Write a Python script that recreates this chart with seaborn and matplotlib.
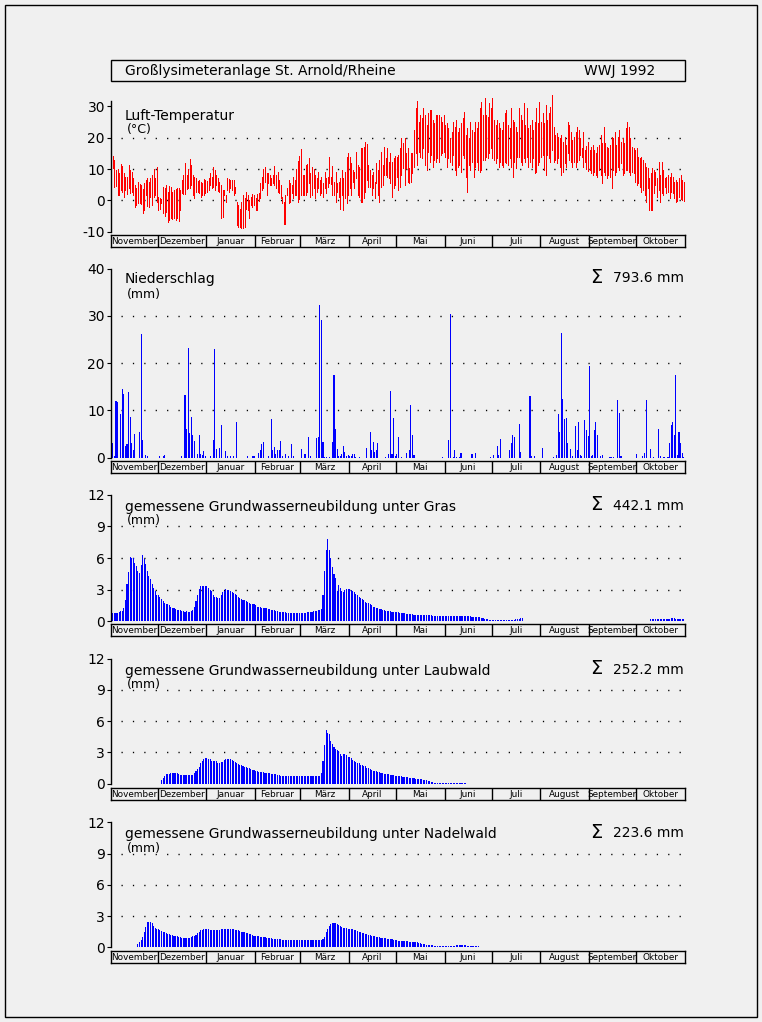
import numpy as np
import pandas as pd
import matplotlib
matplotlib.use("Agg")
import matplotlib.pyplot as plt
import seaborn as sns
from matplotlib.patches import Rectangle

sns.set_theme(style="white")
plt.rcParams['font.family'] = ['DejaVu Sans']
plt.rcParams['text.color'] = 'black'
plt.rcParams['axes.labelcolor'] = 'black'
plt.rcParams['xtick.color'] = 'black'
plt.rcParams['ytick.color'] = 'black'

BG = '#f0f0f0'

# ---------------- data (water year Nov 1991 - Oct 1992) ----------------
months = ["November", "Dezember", "Januar", "Februar", "März", "April",
          "Mai", "Juni", "Juli", "August", "September", "Oktober"]
month_days = [30, 31, 31, 29, 31, 30, 31, 30, 31, 31, 30, 31]

title_left = "Großlysimeteranlage St. Arnold/Rheine"
title_right = "WWJ 1992"

# daily maximum air temperature (°C)
tmax = [
    11.8, 14.1, 12.9, 9.7, 10.0, 8.6, 11.6, 11.1, 8.8, 7.6, 7.3, 11.3, 9.7, 8.9, 7.0, 4.9, 3.8, 5.7, 5.1, 4.9, 3.5, 5.4, 6.5, 7.0, 5.7, 7.2, 8.1, 10.0, 7.2, 10.7,
    1.1, 0.9, 0.4, 4.4, 4.0, 4.9, 2.8, 4.7, 4.4, 2.8, 3.3, 3.6, 3.8, 3.8, 3.3, 6.5, 8.1, 11.8, 8.1, 10.0, 13.2, 11.3, 8.1, 7.6, 7.0, 6.2, 6.5, 5.7, 5.4, 6.8, 6.5,
    6.2, 7.2, 8.6, 7.6, 10.7, 9.7, 8.1, 7.2, 5.7, 4.9, 3.3, 3.3, 1.7, 7.0, 6.8, 6.5, 6.5, 6.5, 4.4, -0.4, -1.5, -2.6, -0.4, 1.7, 0.6, 2.8, 1.7, 0.1, 1.2, 1.9, 1.7,
    0.6, 1.9, 2.2, 5.4, 7.6, 10.0, 10.7, 8.6, 8.6, 8.1, 7.2, 8.1, 11.1, 8.1, 9.1, 6.5, 4.9, 1.2, -0.4, 1.7, 3.8, 6.5, 5.4, 4.9, 7.6, 6.5, 10.0, 12.6, 14.1,
    16.3, 8.1, 8.1, 11.3, 11.5, 13.6, 8.6, 10.6, 10.0, 8.1, 7.0, 8.9, 6.5, 7.5, 5.4, 8.9, 7.2, 7.6, 13.9, 7.6, 11.1, 6.0, 8.9, 5.4, 5.7, 7.2, 9.7, 7.2, 8.9, 13.9, 15.0,
    13.9, 11.8, 9.7, 9.1, 15.5, 11.3, 10.7, 16.8, 16.6, 17.1, 18.7, 17.9, 11.3, 9.7, 8.1, 9.1, 5.7, 11.8, 9.7, 12.9, 15.5, 11.3, 17.1, 13.4, 16.6, 12.3, 15.0, 12.3, 13.4, 14.0,
    13.9, 14.4, 16.6, 19.8, 18.2, 19.8, 15.0, 16.6, 10.2, 15.0, 15.0, 22.4, 29.4, 31.7, 25.1, 27.2, 26.2, 29.4, 27.2, 24.0, 27.8, 28.8, 28.8, 25.7, 24.6, 27.2, 27.2, 27.2, 26.7, 25.1, 27.2,
    24.0, 24.6, 23.0, 19.8, 21.9, 25.1, 23.5, 25.7, 21.9, 23.0, 24.6, 26.2, 28.3, 20.9, 23.0, 19.8, 25.1, 22.4, 21.9, 25.1, 23.0, 25.1, 29.4, 31.5, 27.2, 32.6, 27.2, 26.7, 31.0, 29.4,
    32.6, 25.7, 24.0, 25.7, 24.6, 23.0, 22.4, 25.1, 27.8, 28.8, 24.0, 23.0, 29.4, 25.7, 25.1, 23.5, 21.9, 29.4, 27.2, 25.7, 31.0, 24.0, 29.4, 23.0, 24.0, 25.7, 22.4, 25.1, 29.4, 24.6, 31.5,
    25.1, 27.8, 24.6, 30.4, 25.7, 27.8, 29.9, 33.6, 23.5, 20.9, 21.4, 20.3, 19.8, 20.9, 18.7, 20.3, 17.7, 25.1, 24.0, 21.9, 19.3, 20.3, 21.9, 23.5, 22.4, 19.8, 16.6, 21.9, 16.1, 17.5, 18.5,
    16.1, 17.1, 17.7, 16.1, 15.0, 17.1, 17.7, 20.9, 18.2, 23.5, 18.2, 17.1, 16.6, 17.7, 20.3, 19.8, 21.9, 17.7, 20.3, 22.4, 18.7, 19.8, 18.2, 23.0, 25.1, 23.5, 19.8, 17.1, 16.6, 16.1,
    16.6, 13.9, 13.4, 13.9, 12.9, 11.8, 10.7, 10.2, 7.0, 8.6, 10.2, 9.7, 9.1, 7.0, 12.3, 8.1, 12.3, 9.7, 7.0, 7.6, 8.1, 7.6, 8.6, 7.6, 6.0, 6.5, 6.0, 7.0, 8.0, 6.5, 6.0,
]
# daily minimum air temperature (°C)
tmin = [
    1.2, 10.2, 4.4, 4.6, 1.7, 1.7, 3.3, 2.8, 1.2, 3.3, 2.0, 3.8, 2.2, 2.8, 1.7, -2.0, -1.5, -1.0, -1.0, -1.1, -4.1, -3.1, 1.7, -1.7, -2.0, 1.2, -1.5, 1.2, 1.7, -0.4,
    -3.1, -2.6, -0.9, -4.1, -4.9, -3.6, -6.8, -6.3, -5.7, -6.0, -5.5, -6.3, -5.5, -6.6, -3.1, 2.2, 1.9, 1.9, 3.5, 3.8, 3.8, 4.9, 1.7, 0.6, 2.8, 2.8, 2.2, 1.2, 1.7, 1.7, 2.2,
    2.8, 3.3, 4.9, 3.8, 4.4, 3.3, 4.9, 3.0, 2.8, -5.7, -5.2, 1.7, -0.4, 3.3, 2.8, 3.8, 3.3, 1.7, 2.2, -7.9, -8.4, -8.4, -8.9, -8.9, -8.4, -2.6, -3.1, -5.5, -1.5, -2.0, -1.5,
    -3.1, -3.1, -0.2, 0.6, 3.3, 3.8, 6.0, 1.7, 5.4, 4.9, 4.9, 5.4, 4.9, 3.8, 2.8, 2.2, 0.6, -1.0, -7.7, -7.7, 1.7, -1.0, -0.4, 2.2, 0.6, 1.7, 1.7, -0.6, 0.4,
    1.7, 1.7, 1.7, 1.7, 2.8, 5.4, 1.2, 1.7, 3.8, 0.6, 2.8, 3.8, 1.7, 2.5, 1.2, 3.8, 2.2, 4.4, 5.4, 5.1, 1.7, 1.7, -0.6, 2.8, 1.2, -2.6, 1.7, -3.1, 0.6, -1.0, 1.7,
    3.8, 1.7, 6.0, 3.8, 7.0, 1.7, 1.2, -0.4, -0.4, 0.6, 2.8, 6.5, 4.4, 4.4, 1.7, 3.8, 0.6, 5.4, 1.7, -0.6, 4.4, 4.9, 8.1, 8.1, 7.6, 7.0, 5.4, 1.2, 3.8, 5.0,
    7.6, 3.3, 4.4, 8.1, 10.2, 4.9, 10.2, 6.0, 5.4, 6.0, 8.6, 10.7, 15.0, 11.3, 15.5, 13.9, 13.4, 16.6, 11.3, 9.7, 15.5, 12.3, 14.4, 10.7, 12.9, 12.3, 13.4, 12.3, 14.4, 15.0, 15.5,
    13.9, 10.7, 13.4, 12.3, 11.3, 14.4, 9.7, 8.1, 10.7, 11.3, 9.1, 14.4, 13.4, 7.6, 2.8, 11.3, 9.7, 12.3, 7.6, 10.7, 12.3, 9.7, 9.1, 9.7, 12.9, 13.0, 13.9, 13.4, 15.0, 16.6,
    13.4, 12.9, 11.8, 13.4, 10.7, 12.3, 11.3, 10.7, 12.3, 11.8, 11.3, 13.4, 10.7, 7.6, 12.3, 10.2, 13.9, 13.9, 12.3, 11.3, 13.4, 12.3, 13.9, 10.7, 12.3, 10.7, 13.4, 8.6, 9.1, 11.3, 12.3,
    13.9, 14.4, 9.7, 8.1, 14.4, 13.4, 12.3, 16.1, 12.3, 12.9, 11.8, 13.4, 10.7, 8.1, 9.1, 11.8, 10.7, 15.0, 12.9, 12.3, 10.7, 12.3, 10.7, 12.3, 12.9, 14.4, 13.9, 10.7, 12.3, 10.0, 9.5,
    9.7, 8.6, 8.1, 9.1, 8.1, 7.6, 9.7, 8.1, 5.4, 9.1, 8.1, 7.0, 8.1, 7.6, 3.8, 9.7, 8.1, 9.1, 10.7, 9.7, 11.8, 8.1, 8.6, 9.7, 9.7, 9.1, 8.1, 9.1, 8.6, 6.0,
    4.9, 5.4, 4.4, 2.8, 3.3, 1.7, -0.4, 3.8, -3.1, -3.1, -3.1, 2.2, 4.9, 1.2, 3.3, -0.4, 2.2, 1.7, 4.4, 2.2, 2.8, 0.6, 2.8, 2.2, 0.6, -0.4, -0.2, 1.0, 0.5, 0.0, -0.2,
]

# precipitation: day of water year (0 = 1 Nov 1991) and amount (mm)
precip_day = [1, 2, 3, 4, 6, 7, 8, 9, 10, 11, 12, 13, 14, 15, 18, 19, 20, 22, 23,
              31, 33, 34, 45, 47, 48, 49, 50, 51, 52, 53, 55, 56, 57, 58, 59, 60,
              63, 65, 66, 67, 69, 70, 73, 74, 76, 78, 80, 87, 90, 91,
              94, 95, 96, 97, 100, 102, 103, 104, 105, 106, 107, 108, 109, 111, 113, 115, 116,
              121, 123, 124, 126, 127, 131, 132, 133, 134, 135, 136, 137, 139, 141, 142, 143, 144,
              145, 146, 147, 148, 149, 150, 151, 152, 153, 154, 155, 156, 158,
              163, 165, 166, 167, 168, 169, 170, 175, 177, 178, 179, 180, 181,
              182, 183, 185, 188, 190, 191, 192, 193, 211, 215, 216, 218, 219, 220, 222, 223,
              230, 232, 242, 244, 246, 247, 248, 254, 255, 256, 257, 260, 261, 267, 268, 270,
              275, 282, 284, 285, 286, 287, 288, 289, 290, 291, 293, 294, 296, 297, 298, 299,
              300, 302, 303, 304, 305, 306, 307, 308, 309, 310, 312, 313, 318, 319, 320, 323,
              324, 325, 335, 339, 340, 341, 344, 346, 349, 350, 352, 353, 355, 356, 357, 358,
              359, 360, 361, 362, 363, 364, 365]
precip_mm = [3.1, 0.3, 12.0, 11.8, 9.3, 14.5, 13.5, 2.5, 3.0, 14.0, 8.6, 3.1, 1.7, 5.0, 5.4, 26.2, 3.7, 0.6, 0.3,
             0.4, 0.4, 0.6, 0.4, 13.2, 6.1, 23.2, 5.2, 8.6, 4.9, 3.5, 0.7, 4.8, 0.7, 0.6, 1.4, 0.3,
             0.3, 3.7, 23.0, 1.9, 2.0, 6.9, 1.4, 0.4, 0.3, 0.3, 7.5, 0.4, 0.3, 0.3,
             1.0, 1.7, 3.0, 3.4, 0.4, 8.2, 1.6, 2.3, 0.8, 1.6, 1.7, 3.5, 0.3, 0.8, 0.3, 3.0, 0.4,
             1.8, 0.8, 0.8, 4.4, 0.4, 4.2, 4.4, 32.3, 29.1, 3.3, 0.1, 0.1, 0.1, 3.3, 17.5, 6.1, 1.8,
             0.4, 0.4, 0.8, 2.5, 1.2, 0.4, 0.6, 0.4, 0.4, 0.8, 0.8, 0.1, 0.1,
             2.0, 5.4, 1.6, 3.3, 1.2, 1.6, 3.1, 0.1, 0.8, 14.1, 0.8, 8.4, 0.4,
             0.8, 4.4, 0.1, 1.0, 1.6, 11.1, 4.8, 0.6, 0.2, 3.7, 30.4, 0.2, 1.6, 0.2, 0.2, 1.0,
             0.8, 1.0, 0.2, 0.6, 2.5, 0.6, 4.0, 1.6, 3.1, 4.8, 4.4, 7.1, 1.2, 13.0, 0.4, 0.4,
             2.0, 0.2, 0.6, 9.2, 5.4, 26.3, 12.4, 8.2, 8.4, 3.1, 1.8, 0.4, 6.7, 1.6, 7.5, 0.6,
             0.4, 8.0, 5.9, 4.6, 19.4, 0.4, 0.6, 5.9, 7.5, 4.8, 0.4, 0.6, 0.2, 0.2, 0.2, 12.2,
             9.4, 0.4, 0.8, 0.4, 1.1, 12.2, 1.8, 0.2, 6.1, 0.4, 0.2, 0.2, 0.2, 3.1, 6.9, 7.5,
             4.8, 17.5, 0.6, 5.4, 3.1, 1.0, 0.2]
precip_sum = "793.6"

# measured groundwater recharge (mm/day)
gw_gras = [
    0.75, 0.75, 0.75, 0.78, 0.8, 0.9, 0.95, 1.0, 1.25, 2.0, 3.5, 4.7, 6.1, 6.0, 6.0, 5.5, 5.2, 4.8, 4.6, 5.3, 6.3, 5.9, 5.4, 4.8, 4.3, 4.0, 3.5, 3.2, 2.9, 2.5,
    2.45, 2.3, 2.1, 1.9, 1.75, 1.65, 1.6, 1.5, 1.4, 1.3, 1.25, 1.2, 1.1, 1.05, 1.05, 0.95, 0.95, 0.9, 0.95, 0.9, 0.85, 0.95, 1.05, 1.4, 1.9, 2.5, 3.1, 3.35, 3.35, 3.35, 3.35,
    3.35, 3.15, 3.0, 2.85, 2.5, 2.35, 2.3, 2.25, 2.2, 2.5, 2.75, 2.9, 3.05, 3.0, 3.0, 2.9, 2.8, 2.7, 2.6, 2.45, 2.35, 2.2, 2.1, 2.0, 2.0, 1.9, 1.8, 1.75, 1.65, 1.6, 1.6,
    1.5, 1.4, 1.4, 1.35, 1.3, 1.3, 1.3, 1.25, 1.2, 1.2, 1.1, 1.1, 1.05, 1.0, 0.95, 0.9, 0.9, 0.9, 0.88, 0.85, 0.8, 0.8, 0.8, 0.8, 0.8, 0.8, 0.8, 0.8, 0.8,
    0.8, 0.8, 0.8, 0.8, 0.85, 0.9, 0.9, 0.92, 0.95, 1.0, 1.0, 1.05, 1.1, 1.2, 2.5, 4.8, 6.75, 7.8, 6.75, 6.0, 5.15, 4.5, 4.1, 2.9, 3.4, 3.15, 2.9, 2.8, 3.0, 3.1, 3.1,
    3.05, 3.0, 2.85, 2.75, 2.6, 2.45, 2.3, 2.2, 2.1, 2.0, 1.85, 1.75, 1.7, 1.6, 1.5, 1.4, 1.35, 1.3, 1.25, 1.2, 1.15, 1.1, 1.05, 1.0, 1.0, 0.95, 0.95, 0.9, 0.9, 0.88,
    0.85, 0.85, 0.82, 0.8, 0.78, 0.75, 0.72, 0.7, 0.68, 0.66, 0.65, 0.63, 0.62, 0.62, 0.6, 0.6, 0.58, 0.58, 0.57, 0.56, 0.55, 0.55, 0.55, 0.54, 0.53, 0.52, 0.52, 0.5, 0.5, 0.5, 0.5,
    0.5, 0.5, 0.5, 0.5, 0.5, 0.5, 0.5, 0.5, 0.5, 0.5, 0.5, 0.5, 0.5, 0.5, 0.48, 0.48, 0.48, 0.45, 0.45, 0.42, 0.4, 0.4, 0.38, 0.35, 0.3, 0.25, 0.2, 0.18, 0.15, 0.15,
    0.15, 0.15, 0.15, 0.15, 0.15, 0.15, 0.15, 0.15, 0.15, 0.15, 0.15, 0.15, 0.15, 0.15, 0.15, 0.18, 0.2, 0.25, 0.3, 0.3, 0, 0, 0, 0, 0, 0, 0, 0, 0, 0, 0,
    0, 0, 0, 0, 0, 0, 0, 0, 0, 0, 0, 0, 0, 0, 0, 0, 0, 0, 0, 0, 0, 0, 0, 0, 0, 0, 0, 0, 0, 0, 0,
    0, 0, 0, 0, 0, 0, 0, 0, 0, 0, 0, 0, 0, 0, 0, 0, 0, 0, 0, 0, 0, 0, 0, 0, 0, 0, 0, 0, 0, 0,
    0, 0, 0, 0, 0, 0, 0, 0, 0, 0.2, 0.2, 0.2, 0.2, 0.2, 0.2, 0.2, 0.22, 0.22, 0.22, 0.22, 0.22, 0.25, 0.3, 0.3, 0.3, 0.25, 0.25, 0.25, 0.25, 0.25, 0.25,
]
gras_sum = "442.1"

gw_laub = [
    0, 0, 0, 0, 0, 0, 0, 0, 0, 0, 0, 0, 0, 0, 0, 0, 0, 0, 0, 0, 0, 0, 0, 0, 0, 0, 0, 0, 0, 0,
    0, 0, 0.35, 0.55, 0.75, 0.93, 0.93, 0.93, 1.0, 1.0, 1.03, 1.03, 1.0, 0.93, 0.87, 0.83, 0.83, 0.8, 0.8, 0.8, 0.85, 0.8, 0.83, 1.0, 1.2, 1.4, 1.6, 1.95, 2.2, 2.35, 2.45,
    2.5, 2.4, 2.35, 2.2, 2.2, 2.2, 2.2, 1.95, 1.95, 2.1, 2.1, 2.3, 2.4, 2.4, 2.4, 2.35, 2.3, 2.2, 2.1, 2.0, 1.9, 1.8, 1.75, 1.65, 1.6, 1.58, 1.55, 1.5, 1.45, 1.35, 1.3,
    1.25, 1.2, 1.15, 1.1, 1.1, 1.1, 1.05, 1.05, 1.0, 1.0, 0.97, 0.97, 0.93, 0.9, 0.85, 0.8, 0.77, 0.77, 0.77, 0.77, 0.77, 0.77, 0.77, 0.77, 0.77, 0.77, 0.77, 0.75, 0.72,
    0.7, 0.7, 0.75, 0.75, 0.75, 0.75, 0.75, 0.75, 0.75, 0.75, 0.75, 0.75, 0.78, 1.0, 2.2, 3.7, 5.15, 4.85, 4.8, 4.1, 3.8, 3.55, 3.3, 3.25, 3.1, 2.85, 2.65, 2.8, 2.85, 2.75, 2.6,
    2.55, 2.45, 2.3, 2.2, 2.1, 2.0, 1.95, 1.8, 1.75, 1.7, 1.65, 1.55, 1.5, 1.4, 1.3, 1.25, 1.2, 1.2, 1.15, 1.1, 1.05, 1.0, 0.97, 0.93, 0.9, 0.9, 0.85, 0.8, 0.8, 0.77,
    0.77, 0.75, 0.7, 0.7, 0.65, 0.65, 0.65, 0.6, 0.58, 0.55, 0.55, 0.5, 0.48, 0.48, 0.45, 0.45, 0.42, 0.38, 0.35, 0.32, 0.3, 0.26, 0.2, 0.16, 0.1, 0.1, 0.1, 0.1, 0.1, 0.1, 0.1,
    0.1, 0.1, 0.1, 0.1, 0.1, 0.1, 0.1, 0.1, 0.1, 0.1, 0.1, 0.1, 0.1, 0.1, 0, 0, 0, 0, 0, 0, 0, 0, 0, 0, 0, 0, 0, 0, 0, 0,
    0, 0, 0, 0, 0, 0, 0, 0, 0, 0, 0, 0, 0, 0, 0, 0, 0, 0, 0, 0, 0, 0, 0, 0, 0, 0, 0, 0, 0, 0, 0,
    0, 0, 0, 0, 0, 0, 0, 0, 0, 0, 0, 0, 0, 0, 0, 0, 0, 0, 0, 0, 0, 0, 0, 0, 0, 0, 0, 0, 0, 0, 0,
    0, 0, 0, 0, 0, 0, 0, 0, 0, 0, 0, 0, 0, 0, 0, 0, 0, 0, 0, 0, 0, 0, 0, 0, 0, 0, 0, 0, 0, 0,
    0, 0, 0, 0, 0, 0, 0, 0, 0, 0, 0, 0, 0, 0, 0, 0, 0, 0, 0, 0, 0, 0, 0, 0, 0, 0, 0, 0, 0, 0, 0,
]
laub_sum = "252.2"

gw_nadel = [
    0, 0, 0, 0, 0, 0, 0, 0, 0, 0, 0, 0, 0, 0, 0, 0, 0, 0.3, 0.5, 0.7, 1.0, 1.5, 1.95, 2.4, 2.45, 2.45, 2.3, 2.05, 1.9, 1.8,
    1.75, 1.65, 1.55, 1.5, 1.45, 1.4, 1.3, 1.25, 1.2, 1.15, 1.1, 1.08, 1.05, 1.0, 0.97, 0.93, 0.93, 0.9, 0.88, 0.9, 0.93, 1.0, 1.05, 1.1, 1.15, 1.35, 1.5, 1.65, 1.7, 1.8, 1.8,
    1.8, 1.75, 1.7, 1.68, 1.66, 1.65, 1.65, 1.65, 1.68, 1.75, 1.75, 1.8, 1.8, 1.8, 1.8, 1.8, 1.8, 1.75, 1.7, 1.68, 1.65, 1.6, 1.5, 1.5, 1.45, 1.42, 1.35, 1.3, 1.25, 1.2, 1.1,
    1.1, 1.05, 1.05, 1.0, 1.0, 0.97, 0.95, 0.93, 0.9, 0.88, 0.85, 0.8, 0.8, 0.8, 0.78, 0.75, 0.75, 0.72, 0.72, 0.7, 0.7, 0.7, 0.7, 0.7, 0.68, 0.68, 0.67, 0.67, 0.67,
    0.67, 0.67, 0.67, 0.67, 0.67, 0.67, 0.67, 0.67, 0.67, 0.67, 0.67, 0.67, 0.67, 0.67, 0.8, 1.0, 1.45, 1.8, 2.05, 2.25, 2.3, 2.3, 2.3, 2.2, 2.15, 2.05, 1.95, 1.9, 1.9, 1.85, 1.8,
    1.8, 1.8, 1.75, 1.7, 1.65, 1.55, 1.5, 1.45, 1.4, 1.35, 1.3, 1.25, 1.2, 1.15, 1.1, 1.08, 1.05, 1.02, 1.0, 0.97, 0.93, 0.9, 0.87, 0.85, 0.8, 0.78, 0.77, 0.75, 0.7, 0.7,
    0.68, 0.65, 0.62, 0.6, 0.6, 0.6, 0.58, 0.57, 0.55, 0.55, 0.55, 0.52, 0.5, 0.47, 0.42, 0.4, 0.35, 0.32, 0.3, 0.26, 0.23, 0.22, 0.2, 0.18, 0.16, 0.14, 0.13, 0.13, 0.13, 0.13, 0.13,
    0.13, 0.13, 0.13, 0.13, 0.13, 0.13, 0.13, 0.22, 0.22, 0.22, 0.22, 0.22, 0.22, 0.22, 0.13, 0.13, 0.13, 0.13, 0.13, 0.13, 0.13, 0.13, 0, 0, 0, 0, 0, 0, 0, 0,
    0, 0, 0, 0, 0, 0, 0, 0, 0, 0, 0, 0, 0, 0, 0, 0, 0, 0, 0, 0, 0, 0, 0, 0, 0, 0, 0, 0, 0, 0, 0,
    0, 0, 0, 0, 0, 0, 0, 0, 0, 0, 0, 0, 0, 0, 0, 0, 0, 0, 0, 0, 0, 0, 0, 0, 0, 0, 0, 0, 0, 0, 0,
    0, 0, 0, 0, 0, 0, 0, 0, 0, 0, 0, 0, 0, 0, 0, 0, 0, 0, 0, 0, 0, 0, 0, 0, 0, 0, 0, 0, 0, 0,
    0, 0, 0, 0, 0, 0, 0, 0, 0, 0, 0, 0, 0, 0, 0, 0, 0, 0, 0, 0, 0, 0, 0, 0, 0, 0, 0, 0, 0, 0, 0,
]
nadel_sum = "223.6"

# ---------------- build frames ----------------
N = sum(month_days)


def fit(values):
    v = list(values)[:N]
    return np.array(v + [0.0] * (N - len(v)), dtype=float)


day = np.arange(N) + 0.5
tmax_a, tmin_a = fit(tmax), fit(tmin)
n_t = min(len(tmax), len(tmin), N)
df_temp = pd.DataFrame({
    "day": np.concatenate([day[:n_t], day[:n_t]]),
    "temp": np.concatenate([tmin_a[:n_t], tmax_a[:n_t]]),
})
precip = np.zeros(N)
for d, v in zip(precip_day, precip_mm):
    precip[d] = v

# ---------------- figure ----------------
W, H = 762, 1022
fig = plt.figure(figsize=(W / 100, H / 100), dpi=100, facecolor=BG)
X0, X1 = 110.5, 684.5


def axes_px(x0, top, x1, bottom):
    ax = fig.add_axes([x0 / W, 1 - bottom / H, (x1 - x0) / W, (bottom - top) / H])
    ax.set_facecolor('none')
    return ax


def fig_text(x, y, s, **kw):
    kw.setdefault('color', 'black')
    fig.text(x / W, 1 - y / H, s, **kw)


# outer frame and title box
fig.add_artist(Rectangle((5 / W, 1 - 1017 / H), 752 / W, 1012 / H, transform=fig.transFigure,
                         fill=False, lw=1, ec='black'))
fig.add_artist(Rectangle((X0 / W, 1 - 81 / H), (X1 - X0) / W, 21 / H, transform=fig.transFigure,
                         fill=False, lw=1, ec='black'))
fig_text(125, 71, title_left, ha='left', va='center', fontsize=10)
fig_text(655, 71, title_right, ha='right', va='center', fontsize=10)

bounds = np.concatenate([[0], np.cumsum(month_days)])


def setup_panel(ax, ylim, ticks, grid):
    ax.set_xlim(0, N)
    ax.set_ylim(*ylim)
    for s in ['top', 'right', 'bottom']:
        ax.spines[s].set_visible(False)
    ax.spines['left'].set_color('black')
    ax.spines['left'].set_linewidth(1)
    ax.set_xticks([])
    ax.set_yticks(ticks)
    ax.set_yticklabels([str(t) for t in ticks])
    ax.tick_params(axis='y', direction='out', length=3, width=0.8, pad=1,
                   labelsize=10, colors='black', left=True)
    ax.set_xlabel('')
    ax.set_ylabel('')
    ax.hlines(grid, 7, N, colors='black', linestyles=(0, (0.9, 7.3)), lw=1.0, zorder=0)


def month_bar(top, bottom):
    axm = axes_px(X0, top, X1, bottom)
    axm.set_xlim(0, N)
    axm.set_ylim(0, 1)
    axm.set_xticks([])
    axm.set_yticks([])
    for s in axm.spines.values():
        s.set_visible(True)
        s.set_color('black')
        s.set_linewidth(1)
    for b in bounds[1:-1]:
        axm.axvline(b, color='black', lw=1)
    for i, m in enumerate(months):
        axm.text((bounds[i] + bounds[i + 1]) / 2, 0.42, m, ha='center', va='center',
                 fontsize=6.4, color='black')


def bar_panel(ax, values, color='#0000ff'):
    sns.barplot(x=day, y=values, native_scale=True, orient='x', width=0.68,
                color=color, saturation=1, errorbar=None, linewidth=0,
                edgecolor='none', antialiased=False, ax=ax)


def sum_text(y, value):
    fig_text(590, y, "Σ", ha='left', va='center', fontsize=14)
    fig_text(613, y + 1, f"{value} mm", ha='left', va='center', fontsize=10)


# ---- panel 1: air temperature
ax1 = axes_px(X0, 101, X1, 231.7)
sns.lineplot(data=df_temp, x="day", y="temp", units="day", estimator=None,
             color='#ff0000', lw=0.6, legend=False, ax=ax1)
for ln in ax1.lines:
    ln.set_antialiased(False)
    ln.set_clip_on(False)
    ln.set_solid_capstyle('butt')
setup_panel(ax1, (-10, 31.7), [-10, 0, 10, 20, 30], [0, 10, 20])
fig_text(125, 116, "Luft-Temperatur", ha='left', va='center', fontsize=10)
fig_text(127, 130, "(°C)", ha='left', va='center', fontsize=9)
month_bar(235, 247)

# ---- panel 2: precipitation
ax2 = axes_px(X0, 268.7, X1, 457.7)
bar_panel(ax2, precip)
setup_panel(ax2, (0, 40), [0, 10, 20, 30, 40], [10, 20, 30])
fig_text(125, 279, "Niederschlag", ha='left', va='center', fontsize=10)
fig_text(127, 294, "(mm)", ha='left', va='center', fontsize=9)
sum_text(277, precip_sum)
month_bar(461, 473)

# ---- panels 3-5: groundwater recharge
gw_panels = [
    (gw_gras, "Gras", gras_sum, 494.7, 621.3, 624, 636),
    (gw_laub, "Laubwald", laub_sum, 658.5, 783.7, 787.5, 799.5),
    (gw_nadel, "Nadelwald", nadel_sum, 822.3, 947.3, 951, 963),
]
for values, name, total, top, bottom, mtop, mbottom in gw_panels:
    ax = axes_px(X0, top, X1, bottom)
    bar_panel(ax, fit(values))
    setup_panel(ax, (0, 12), [0, 3, 6, 9, 12], [3, 6, 9])
    fig_text(125, top + 12, f"gemessene Grundwasserneubildung unter {name}",
             ha='left', va='center', fontsize=10)
    fig_text(127, top + 26, "(mm)", ha='left', va='center', fontsize=9)
    sum_text(top + 10, total)
    month_bar(mtop, mbottom)

fig.savefig("out.png", dpi=100, facecolor=BG)
